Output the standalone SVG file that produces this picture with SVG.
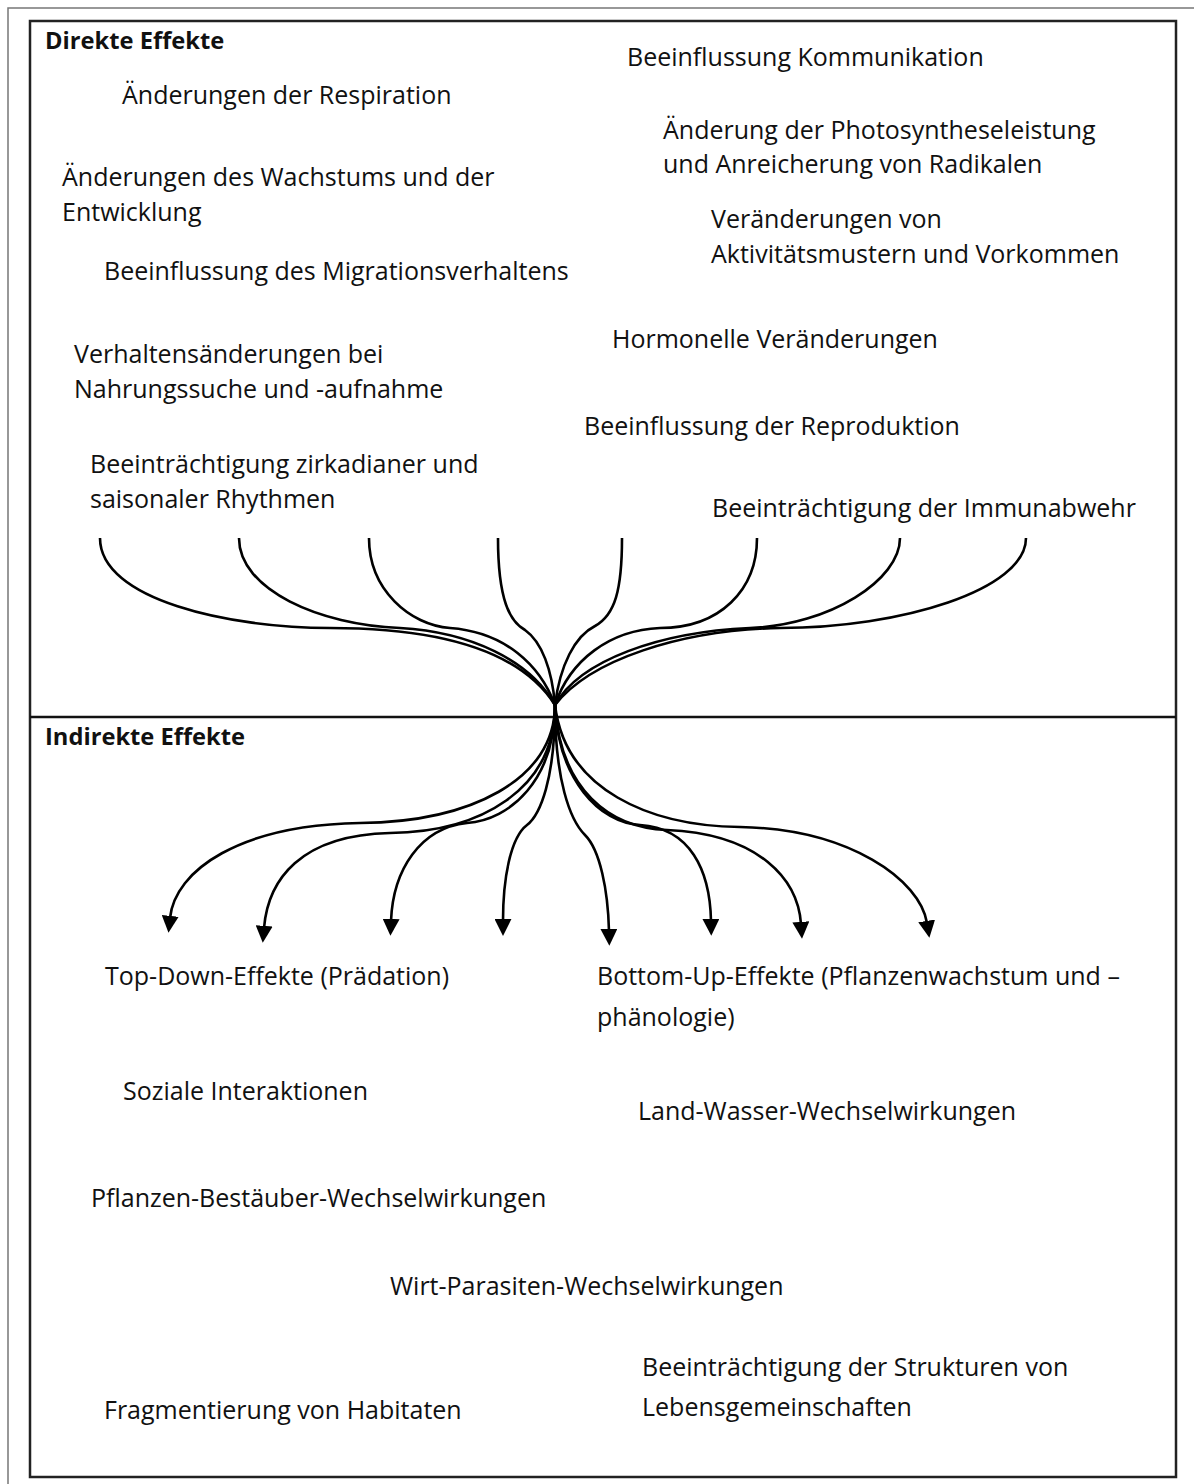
<svg xmlns="http://www.w3.org/2000/svg" width="1194" height="1484" viewBox="0 0 1194 1484">
<style>
.t{font-family:"Open Sans","Liberation Sans",sans-serif;font-size:25px;fill:#111}
.h{font-family:"Open Sans","Liberation Sans",sans-serif;font-size:23.7px;font-weight:bold;fill:#111}
.c{fill:none;stroke:#000;stroke-width:2.6}
</style>
<defs>
<marker id="ah" viewBox="0 0 16 16" markerWidth="17" markerHeight="17" refX="2" refY="8" orient="auto" markerUnits="userSpaceOnUse"><path d="M0,0 L16,8 L0,16 z" fill="#000"/></marker>
</defs>
<rect width="1194" height="1484" fill="#fff"/>
<path d="M8,1484 V8 H1194" fill="none" stroke="#777" stroke-width="1.5"/>
<rect x="30" y="21" width="1146" height="1456" fill="none" stroke="#222" stroke-width="2.5"/>
<line x1="30" y1="717" x2="1176" y2="717" stroke="#111" stroke-width="2.5"/>
<g id="h-direkt"><text class="h" x="45" y="49">Direkte Effekte</text></g>
<g id="h-indirekt"><text class="h" x="45" y="745">Indirekte Effekte</text></g>
<g id="n-respiration"><text class="t" x="122" y="104">Änderungen der Respiration</text></g>
<g id="n-kommunikation"><text class="t" x="627" y="66">Beeinflussung Kommunikation</text></g>
<g id="n-photosynthese"><text class="t" x="663" y="139">Änderung der Photosyntheseleistung</text><text class="t" x="663" y="173">und Anreicherung von Radikalen</text></g>
<g id="n-wachstum"><text class="t" x="62" y="186">Änderungen des Wachstums und der</text><text class="t" x="62" y="221">Entwicklung</text></g>
<g id="n-aktivitaet"><text class="t" x="711" y="228">Veränderungen von</text><text class="t" x="711" y="263">Aktivitätsmustern und Vorkommen</text></g>
<g id="n-migration"><text class="t" x="104" y="280">Beeinflussung des Migrationsverhaltens</text></g>
<g id="n-hormonell"><text class="t" x="612" y="348">Hormonelle Veränderungen</text></g>
<g id="n-nahrung"><text class="t" x="74" y="363">Verhaltensänderungen bei</text><text class="t" x="74" y="398">Nahrungssuche und -aufnahme</text></g>
<g id="n-reproduktion"><text class="t" x="584" y="435">Beeinflussung der Reproduktion</text></g>
<g id="n-rhythmen"><text class="t" x="90" y="473">Beeinträchtigung zirkadianer und</text><text class="t" x="90" y="508">saisonaler Rhythmen</text></g>
<g id="n-immun"><text class="t" x="712" y="517">Beeinträchtigung der Immunabwehr</text></g>
<g id="n-topdown"><text class="t" x="105" y="985">Top-Down-Effekte (Prädation)</text></g>
<g id="n-bottomup"><text class="t" x="597" y="985">Bottom-Up-Effekte (Pflanzenwachstum und –</text><text class="t" x="597" y="1026">phänologie)</text></g>
<g id="n-sozial"><text class="t" x="123" y="1100">Soziale Interaktionen</text></g>
<g id="n-landwasser"><text class="t" x="638" y="1120">Land-Wasser-Wechselwirkungen</text></g>
<g id="n-bestaeuber"><text class="t" x="91" y="1207">Pflanzen-Bestäuber-Wechselwirkungen</text></g>
<g id="n-parasiten"><text class="t" x="390" y="1295">Wirt-Parasiten-Wechselwirkungen</text></g>
<g id="n-strukturen"><text class="t" x="642" y="1376">Beeinträchtigung der Strukturen von</text><text class="t" x="642" y="1416">Lebensgemeinschaften</text></g>
<g id="n-fragment"><text class="t" x="104" y="1419">Fragmentierung von Habitaten</text></g>
<g id="connectors">
<path class="c" d="M100,538 C100,600 230,628 330,628 C440,628 520,650 555,705"/>
<path class="c" d="M239,538 C239,590 320,625 400,628 C470,632 530,660 555,705"/>
<path class="c" d="M369,538 C369,590 410,625 450,628 C505,632 540,665 555,705"/>
<path class="c" d="M498,538 C498,600 510,622 525,630 C542,642 552,670 555,705"/>
<path class="c" d="M622,538 C622,590 615,615 595,626 C575,636 560,665 555,705"/>
<path class="c" d="M757,538 C757,590 720,628 660,628 C610,630 570,660 555,705"/>
<path class="c" d="M900,538 C900,580 830,625 750,628 C660,632 580,660 555,705"/>
<path class="c" d="M1026,538 C1026,590 900,628 780,628 C680,630 590,660 555,705"/>
<path class="c" marker-end="url(#ah)" d="M555,705 C555,780 470,822 360,823 C240,825 175,870 170,918"/>
<path class="c" marker-end="url(#ah)" d="M555,705 C555,790 480,832 390,833 C300,835 268,880 264,928"/>
<path class="c" marker-end="url(#ah)" d="M555,705 C555,780 510,820 467,823 C420,828 393,870 391,921"/>
<path class="c" marker-end="url(#ah)" d="M555,705 C555,780 540,815 527,825 C510,838 503,880 503,921"/>
<path class="c" marker-end="url(#ah)" d="M555,705 C555,780 570,820 585,835 C600,850 608,890 609,931"/>
<path class="c" marker-end="url(#ah)" d="M555,705 C558,780 600,823 640,825 C690,828 710,870 711,921"/>
<path class="c" marker-end="url(#ah)" d="M555,705 C560,790 610,828 667,830 C760,834 798,880 801,924"/>
<path class="c" marker-end="url(#ah)" d="M555,705 C565,790 650,826 740,827 C850,829 920,880 927,923"/>
</g>
</svg>
